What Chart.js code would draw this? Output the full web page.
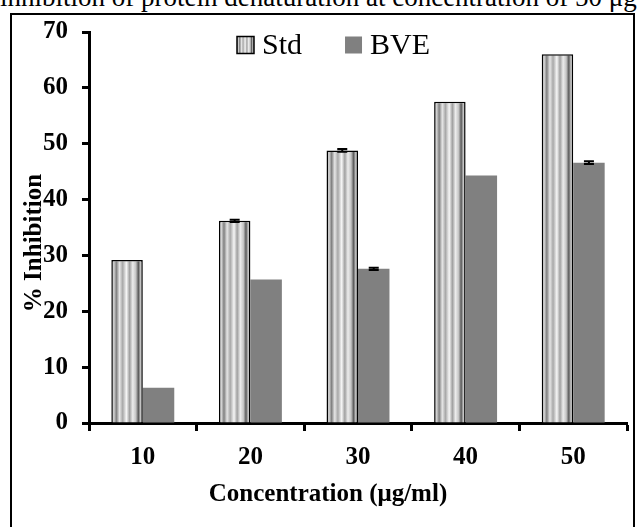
<!DOCTYPE html>
<html>
<head>
<meta charset="utf-8">
<title>% Inhibition</title>
<script src="https://cdn.jsdelivr.net/npm/chart.js@4.4.0/dist/chart.umd.min.js"></script>
<style>
  html, body { margin: 0; padding: 0; background: #fff; }
  body { width: 637px; height: 527px; position: relative; overflow: hidden; }
  #caption {
    position: absolute; left: 0; top: -18px;
    font-family: 'Liberation Serif', serif; font-size: 27px;
    white-space: nowrap; color: #000;
  }
  #frame {
    position: absolute; left: 10px; top: 13px; width: 625px; height: 540px;
    border: 2px solid #000; box-sizing: border-box;
  }
  #wrap { position: absolute; left: 0; top: 0; width: 637px; height: 527px; }
</style>
</head>
<body>
<div id="caption">inhibition of protein denaturation at concentration of 50 μg</div>
<div id="frame"></div>
<div id="wrap"><canvas id="myChart" width="637" height="527"></canvas></div>

<script>
'use strict';

/////// DATA ///////
let concLabels = ['10', '20', '30', '40', '50'];
let stdValues = [29.2, 36.2, 48.8, 57.5, 66.0];
let bveValues = [6.3, 25.7, 27.6, 44.3, 46.6];
// tiny SD caps, only where they show
let stdErrors = [0, 0.2, 0.25, 0, 0];
let bveErrors = [0, 0, 0.2, 0, 0.25];
let yTickValues = [0, 10, 20, 30, 40, 50, 60, 70];

let xTitle = 'Concentration (μg/ml)';
let yTitle = '% Inhibition';

/////// LOOK ///////
const FONT = "'Liberation Serif', 'Times New Roman', serif";
const CAT_PCT = 0.585;
// vertical stripes of the Std bars, left -> right
const stripeStops = [
  [0.00, '#9a9a9a'], [0.08, '#d4d4d4'], [0.16, '#808080'], [0.26, '#e6e6e6'],
  [0.36, '#a8a8a8'], [0.48, '#f6f6f6'], [0.58, '#a0a0a0'], [0.68, '#ececec'],
  [0.78, '#c4c4c4'], [0.86, '#5a5a5a'], [0.93, '#c8c8c8'], [1.00, '#8c8c8c']
];

function stripes(ctx, left, width){
  let g = ctx.createLinearGradient(left, 0, left + width, 0);
  stripeStops.forEach(s => g.addColorStop(s[0], s[1]));
  return g;
}

function stdFill(c){
  let chart = c.chart;
  let xs = chart.scales.x;
  if (!xs || c.dataIndex === undefined) return '#c0c0c0';
  let catW = xs.width / concLabels.length;
  let barW = catW * CAT_PCT / 2;
  let left = xs.getPixelForValue(c.dataIndex) - barW;
  if (!isFinite(left) || !isFinite(barW) || barW <= 0) return '#c0c0c0';
  return stripes(chart.ctx, left, barW);
}

/////// PLUGINS ///////
const errorBars = {
  id: 'errorBars',
  afterDatasetsDraw(chart){
    let ctx = chart.ctx;
    let ys = chart.scales.y;
    [stdErrors, bveErrors].forEach((errs, di) => {
      let meta = chart.getDatasetMeta(di);
      let vals = chart.data.datasets[di].data;
      meta.data.forEach((bar, i) => {
        if (!errs[i]) return;
        let top = ys.getPixelForValue(vals[i] + errs[i]);
        let bot = ys.getPixelForValue(vals[i] - errs[i]);
        ctx.save();
        ctx.strokeStyle = '#000';
        ctx.lineWidth = 2;
        ctx.beginPath();
        ctx.moveTo(bar.x, top); ctx.lineTo(bar.x, bot);
        ctx.moveTo(bar.x - 5, top); ctx.lineTo(bar.x + 5, top);
        ctx.moveTo(bar.x - 5, bot); ctx.lineTo(bar.x + 5, bot);
        ctx.stroke();
        ctx.restore();
      });
    });
  }
};

const insideLegend = {
  id: 'insideLegend',
  afterDraw(chart){
    let ctx = chart.ctx;
    let sets = chart.data.datasets;
    let x = 237, cy = 45, box = 17;
    ctx.save();
    ctx.font = '30px ' + FONT;
    ctx.textBaseline = 'middle';
    sets.forEach((ds, i) => {
      if (i === 0){
        ctx.fillStyle = stripes(ctx, x, box);
        ctx.fillRect(x, cy - box / 2, box, box);
        ctx.strokeStyle = '#000';
        ctx.lineWidth = 1.5;
        ctx.strokeRect(x, cy - box / 2, box, box);
      } else {
        ctx.fillStyle = ds.backgroundColor;
        ctx.fillRect(x, cy - box / 2, box, box);
      }
      ctx.fillStyle = '#000';
      ctx.fillText(ds.label, x + box + 8, cy + 1);
      x += box + 8 + ctx.measureText(ds.label).width + 43;
    });
    ctx.restore();
  }
};

// axis titles sit off-centre in the original, so place them by hand
const axisTitles = {
  id: 'axisTitles',
  afterDraw(chart){
    let ctx = chart.ctx;
    ctx.save();
    ctx.font = 'bold 25px ' + FONT;
    ctx.fillStyle = '#000';
    ctx.textAlign = 'center';
    ctx.textBaseline = 'middle';
    ctx.fillText(xTitle, 328, 495);
    ctx.translate(35, 243);
    ctx.rotate(-Math.PI / 2);
    ctx.fillText(yTitle, 0, 0);
    ctx.restore();
  }
};

/////// CHART ///////
function renderChart(){
  const data = {
    labels: concLabels,
    datasets: [{
      label: 'Std',
      data: stdValues,
      backgroundColor: stdFill,
      borderColor: '#000',
      borderWidth: 1.5
    },
    {
      label: 'BVE',
      data: bveValues,
      backgroundColor: '#808080',
      borderWidth: 0
    }]
  };

  const tickFont = { family: FONT, size: 25, weight: 'bold' };

  const ctx = document.getElementById('myChart');
  new Chart(ctx, {
    type: 'bar',
    data: data,
    plugins: [errorBars, insideLegend, axisTitles],
    options: {
      responsive: false,
      animation: false,
      layout: { padding: { left: 20, right: 10, top: 32, bottom: 10 } },
      datasets: { bar: { categoryPercentage: CAT_PCT, barPercentage: 1 } },
      plugins: { legend: { display: false }, tooltip: { enabled: false } },
      scales: {
        x: {
          offset: true,
          grid: {
            offset: true, drawOnChartArea: false, drawTicks: true,
            tickLength: 8, tickWidth: 3, tickColor: '#000', color: '#000'
          },
          border: { display: true, color: '#000', width: 3 },
          ticks: { color: '#000', font: tickFont, padding: 12 },
          afterFit: s => { s.height = 94; }
        },
        y: {
          min: 0,
          max: 70,
          afterBuildTicks: s => { s.ticks = yTickValues.map(v => ({ value: v })); },
          grid: {
            drawOnChartArea: false, drawTicks: true,
            tickLength: 7, tickWidth: 3, tickColor: '#000', color: '#000'
          },
          border: { display: true, color: '#000', width: 3 },
          ticks: { color: '#000', font: tickFont, padding: 14 },
          afterFit: s => { s.width = 69; }
        }
      }
    }
  });
}

renderChart();
</script>
</body>
</html>
